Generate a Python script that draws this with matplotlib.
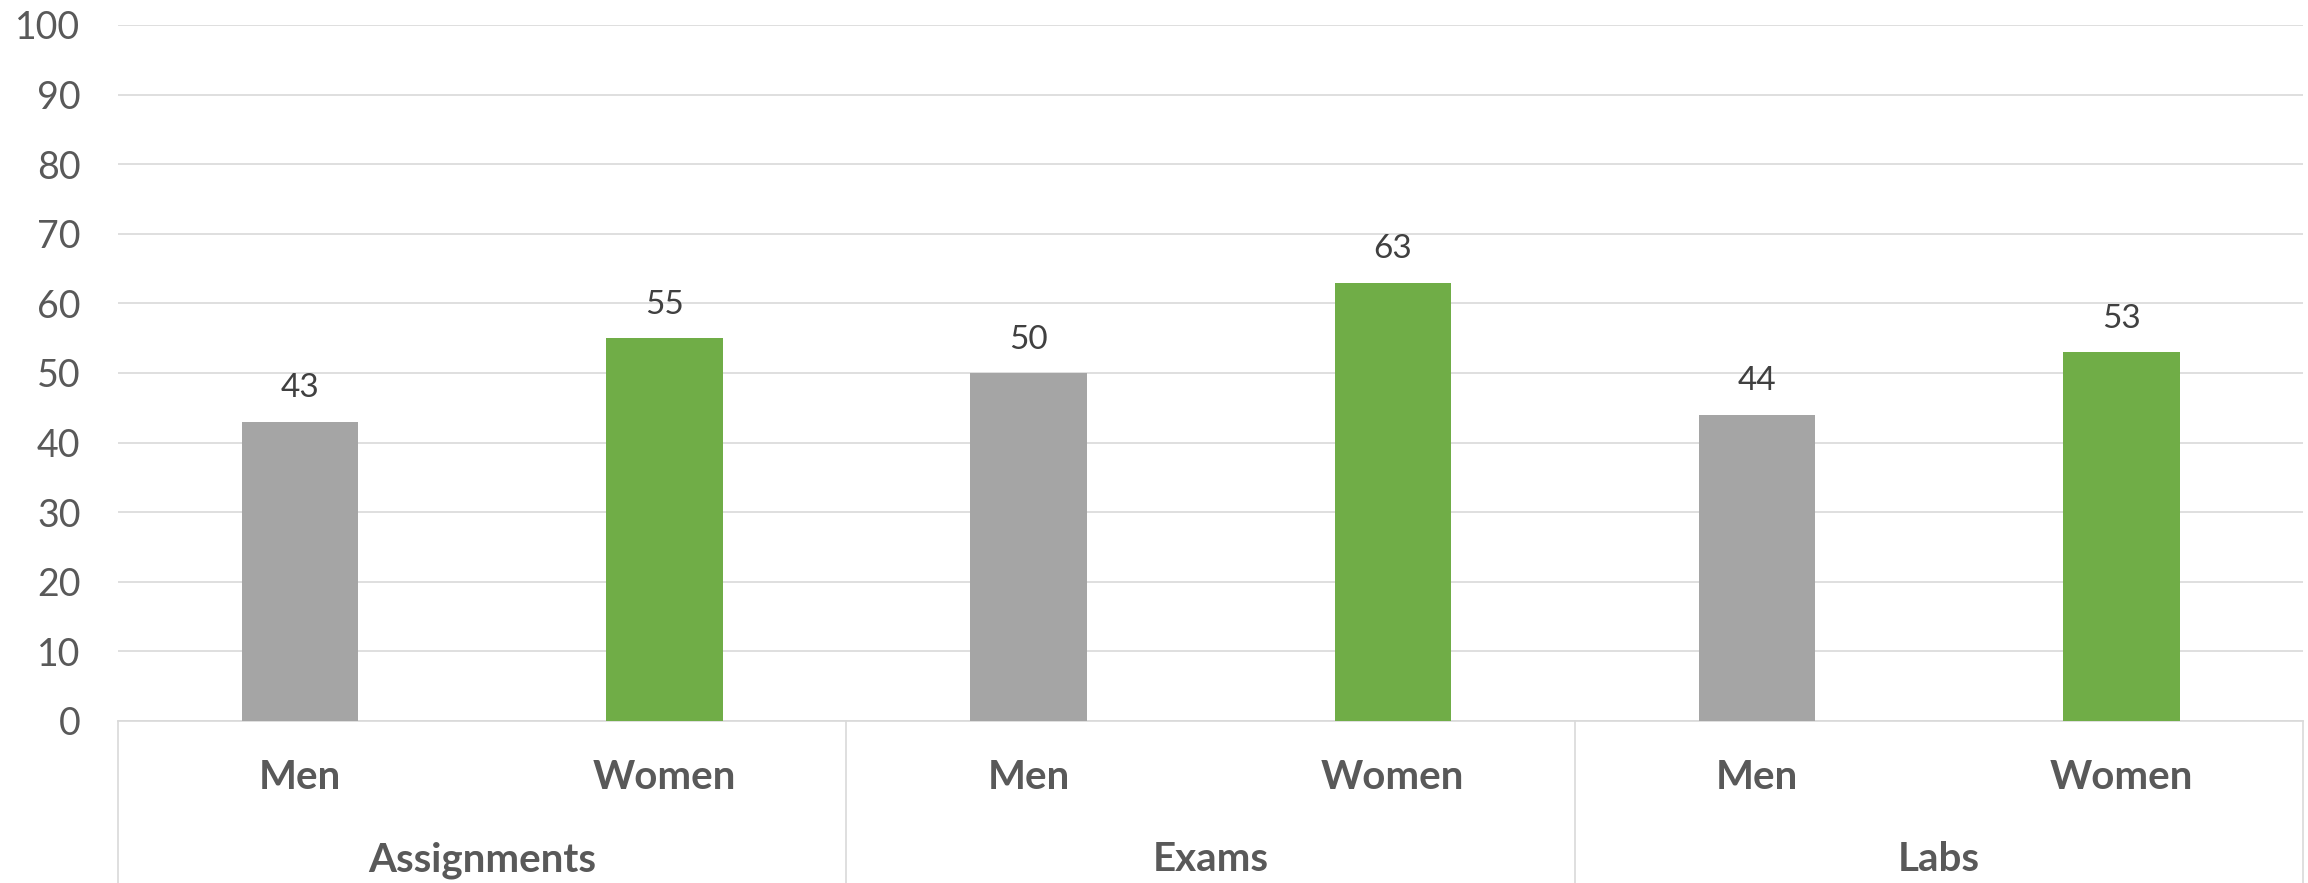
import numpy as np
import matplotlib
matplotlib.use("Agg")
import matplotlib.pyplot as plt

# scores by course component, split by gender
groups = ["Assignments", "Exams", "Labs"]
genders = ["Men", "Women"]
men = [43, 50, 44]
women = [55, 63, 53]

colors = {"Men": "#A5A5A5", "Women": "#70AD47"}
grid_col = "#D9D9D9"
text_col = "#595959"

plt.rcParams["font.family"] = ["Lato", "DejaVu Sans"]

fig = plt.figure(figsize=(23.08, 8.83), dpi=100)
ax = fig.add_axes([0.0511, 0.1835, 0.9469, 0.7882])

values = []
labels = []
for m, w in zip(men, women):
    values += [m, w]
    labels += genders
x = np.arange(len(values))
bar_colors = [colors[g] for g in labels]

bars = ax.bar(x, values, width=0.32, color=bar_colors, zorder=3)
for b, v in zip(bars, values):
    ax.annotate(str(v), (b.get_x() + b.get_width() / 2, v),
                xytext=(0, 24), textcoords="offset points",
                ha="center", va="center", fontsize=24, color="#404040")

ax.set_xlim(-0.5, len(values) - 0.5)
ax.set_ylim(0, 100)
ax.set_yticks(np.arange(0, 101, 10))
ax.yaxis.grid(True, color=grid_col, linewidth=1.2, zorder=0)
ax.tick_params(axis="y", length=0, pad=27, labelsize=27, labelcolor=text_col)
ax.set_xticks([])
for s in ["top", "right", "left"]:
    ax.spines[s].set_visible(False)
ax.spines["bottom"].set_color(grid_col)
ax.spines["bottom"].set_linewidth(1.2)

# two-level category axis below the plot
xt = ax.get_xaxis_transform()
for xi, lab in zip(x, labels):
    ax.annotate(lab, (xi, 0), xycoords=xt, xytext=(0, -41), textcoords="offset points",
                ha="center", va="center", fontsize=29, fontweight="bold", color=text_col)
for i, g in enumerate(groups):
    ax.annotate(g, (2 * i + 0.5, 0), xycoords=xt, xytext=(0, -100), textcoords="offset points",
                ha="center", va="center", fontsize=29, fontweight="bold", color=text_col)
for xv in np.arange(-0.5, len(values), 2):
    ax.plot([xv, xv], [0, -0.3], transform=xt, clip_on=False, color=grid_col, linewidth=1.2)

fig.savefig("out.png", dpi=100)
